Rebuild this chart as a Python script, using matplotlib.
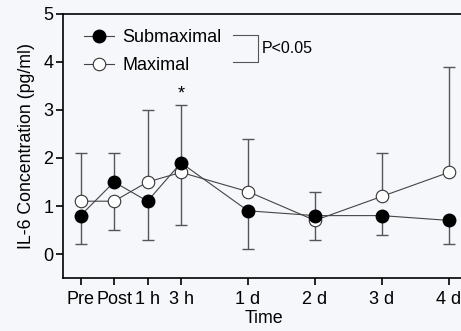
import matplotlib.pyplot as plt
from matplotlib.lines import Line2D

plt.rcParams['font.family'] = ['Liberation Sans', 'DejaVu Sans']

labels = ['Pre', 'Post', '1 h', '3 h', '1 d', '2 d', '3 d', '4 d']
xpos = [0, 0.5, 1, 1.5, 2.5, 3.5, 4.5, 5.5]

sub_mean = [0.8, 1.5, 1.1, 1.9, 0.9, 0.8, 0.8, 0.7]
sub_err_lo = [0.6, 0, 0.8, 0, 0.8, 0, 0.4, 0.5]
sub_err_hi = [0, 0.6, 0, 1.2, 0, 0.5, 0, 0]

max_mean = [1.1, 1.1, 1.5, 1.7, 1.3, 0.7, 1.2, 1.7]
max_err_lo = [0, 0.6, 0, 1.1, 0, 0.4, 0, 0]
max_err_hi = [1.0, 0, 1.5, 0, 1.1, 0, 0.9, 2.2]

bg = '#f6f7fb'
fig = plt.figure(figsize=(4.61, 3.31), dpi=100, facecolor=bg)
ax = fig.add_axes([0.137, 0.16, 0.87, 0.798], facecolor=bg)

ax.errorbar(xpos, sub_mean, yerr=[sub_err_lo, sub_err_hi], fmt='none',
            ecolor='#555555', elinewidth=1, capsize=4, capthick=1, zorder=1)
ax.errorbar(xpos, max_mean, yerr=[max_err_lo, max_err_hi], fmt='none',
            ecolor='#555555', elinewidth=1, capsize=4, capthick=1, zorder=1)
ax.plot(xpos, max_mean, '-o', color='#444444', lw=0.8, ms=9,
        mfc='white', mec='#333333', mew=0.8, zorder=2)
ax.plot(xpos, sub_mean, '-o', color='#444444', lw=0.8, ms=9,
        mfc='black', mec='black', zorder=3)

ax.text(1.5, 3.15, '*', ha='center', va='bottom', fontsize=13)

h1 = Line2D([], [], color='#444444', lw=0.8, marker='o', ms=9, mfc='black', mec='black')
h2 = Line2D([], [], color='#444444', lw=0.8, marker='o', ms=9, mfc='white', mec='#333333', mew=0.8)
ax.legend([h1, h2], ['Submaximal', 'Maximal'], loc='upper left', frameon=False,
          fontsize=13, handlelength=1.65, handletextpad=0.5, labelspacing=0.6,
          bbox_to_anchor=(0.02, 0.99), borderaxespad=0.3)

ax.plot([2.27, 2.65, 2.65, 2.27], [4.57, 4.57, 4.0, 4.0], color='#555555', lw=0.8)
ax.text(2.71, 4.28, 'P<0.05', va='center', fontsize=11.5)

ax.set_xlim(-0.26, 5.73)
ax.set_ylim(-0.5, 5)
ax.set_xticks(xpos)
ax.set_xticklabels(labels, fontsize=13)
ax.set_yticks(range(6))
ax.tick_params(axis='y', labelsize=13, direction='out', length=5, width=1.2, pad=2)
ax.tick_params(axis='x', direction='out', length=5, width=1.2, pad=4)
ax.spines['right'].set_visible(False)
for s in ['left', 'bottom', 'top']:
    ax.spines[s].set_linewidth(1.2)
ax.set_ylabel('IL-6 Concentration (pg/ml)', fontsize=12.8, labelpad=6)
ax.set_xlabel('Time', fontsize=12.8, labelpad=2)

fig.savefig('out.png', dpi=100, facecolor=bg)
